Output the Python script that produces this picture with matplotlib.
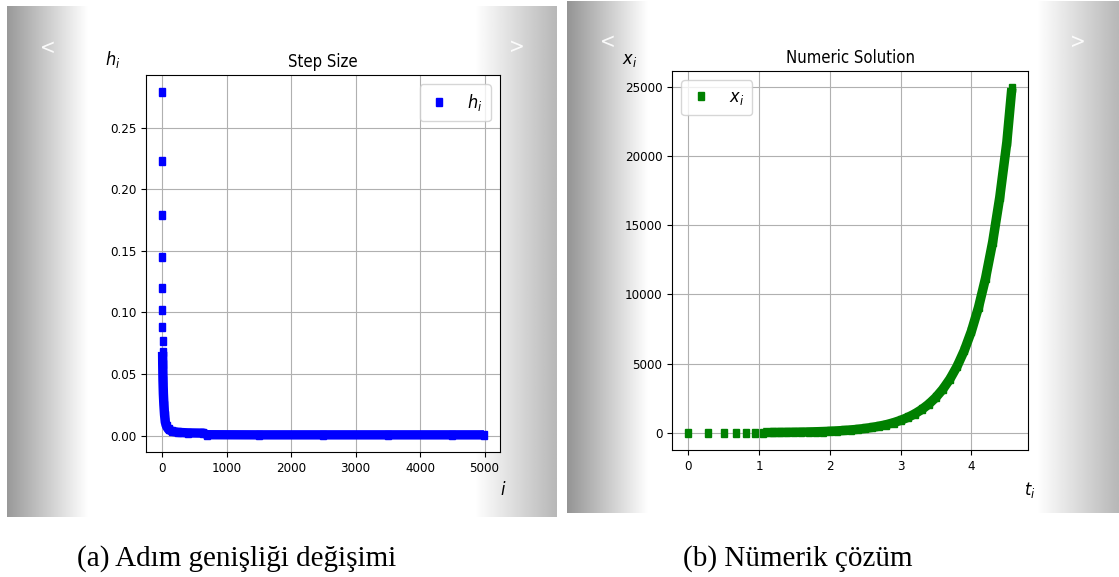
import matplotlib.pyplot as plt
import numpy as np
from matplotlib.markers import MarkerStyle
from matplotlib.transforms import Affine2D

plt.rcParams['font.family'] = 'DejaVu Sans'
plt.rcParams['font.stretch'] = 'condensed'

# step sizes: the first steps are seen one by one, later ones merge into a band
i_vals = [0, 1, 2, 3, 4, 5, 6, 7,
          8, 10, 14, 20, 28, 38, 50, 70, 100, 150, 250, 400, 640,
          700, 1500, 2500, 3500, 4500, 4990]
h_vals = [0.279, 0.223, 0.179, 0.145, 0.120, 0.102, 0.088, 0.077,
          0.068, 0.058, 0.045, 0.034, 0.025, 0.017, 0.011, 0.0075, 0.005,
          0.0035, 0.0026, 0.0022, 0.0020,
          0.0007, 0.0006, 0.0006, 0.0006, 0.0006, 0.0006]
n_single_h = 8

# numeric solution x_i over t_i
t_vals = [0.0, 0.28, 0.50, 0.67, 0.82, 0.95,
          1.06, 1.2, 1.3, 1.4, 1.5, 1.6, 1.7, 1.8, 1.9, 2.0,
          2.1, 2.2, 2.3, 2.4, 2.5, 2.6, 2.7, 2.8, 2.9, 3.0,
          3.1, 3.2, 3.3, 3.4, 3.5, 3.6, 3.7, 3.8, 3.9, 4.0,
          4.1, 4.2, 4.3, 4.4, 4.5, 4.57]
x_vals = [1, 2, 3, 4, 6, 8,
          15, 21, 26, 32, 39, 48, 59, 73, 90, 110,
          136, 168, 207, 255, 315, 390, 480, 590, 730, 900,
          1110, 1370, 1690, 2085, 2570, 3175, 3915, 4830, 5960, 7350,
          9070, 11190, 13800, 17030, 21010, 24900]
n_single_x = 6

W, H = 1119, 577


def fx(x):
    return x / W


def fy(y):
    return 1 - y / H


fig = plt.figure(figsize=(W / 100, H / 100), dpi=100)


def panel(x0, x1, y0, y1, g_left, g_right):
    # carousel style panel: grey fade at both sides, white in the middle
    ax = fig.add_axes([fx(x0), fy(y1), fx(x1 - x0), (y1 - y0) / H])
    n = x1 - x0
    cols = np.ones(n)
    fade = 82
    cols[:fade] = np.linspace(g_left, 1.0, fade)
    cols[-fade:] = np.linspace(1.0, g_right, fade)
    ax.imshow(np.tile(cols, (2, 1)), cmap='gray', vmin=0, vmax=1,
              aspect='auto', interpolation='bilinear')
    ax.set_axis_off()
    return ax


panel(7, 557, 6, 517, 0.60, 0.72)
panel(567, 1119, 1, 513, 0.58, 0.72)

for (cx, cy, s) in [(48, 48, '<'), (517, 47, '>'), (608, 42, '<'), (1078, 42, '>')]:
    fig.text(fx(cx), fy(cy), s, color='white', fontsize=15, family='DejaVu Sans',
             ha='center', va='center', alpha=0.9)

mk = MarkerStyle('s', transform=Affine2D().scale(0.78, 1.0))
band = 6.8

# left: step size
ax1 = fig.add_axes([fx(146), fy(452), fx(500 - 146), (452 - 75) / H])
ax1.plot(i_vals[n_single_h:], h_vals[n_single_h:], '-', color='blue', lw=band,
         solid_capstyle='butt', solid_joinstyle='round')
ax1.plot(i_vals, h_vals, linestyle='none', marker=mk, ms=6.0, color='blue',
         label='$h_i$')
ax1.set_title('Step Size', fontsize=12)
ax1.grid(True)
ax1.tick_params(labelsize=9.5)
ax1.legend(loc='upper right', fontsize=13, handlelength=1.3, handletextpad=0.9,
           borderpad=0.45)

# right: numeric solution
ax2 = fig.add_axes([fx(672), fy(450), fx(1028 - 672), (450 - 71) / H])
ax2.plot(t_vals[n_single_x:], x_vals[n_single_x:], '-', color='green', lw=band,
         solid_capstyle='butt', solid_joinstyle='round')
ax2.plot(t_vals, x_vals, linestyle='none', marker=mk, ms=6.0, color='green',
         label='$x_i$')
ax2.set_title('Numeric Solution', fontsize=12)
ax2.grid(True)
ax2.tick_params(labelsize=9.5)
ax2.legend(loc='upper left', fontsize=13, handlelength=1.3, handletextpad=0.9,
           borderpad=0.45)

# axis names sit outside the axes corners
fig.text(fx(113), fy(60), '$h_i$', fontsize=13, ha='center', va='center')
fig.text(fx(503), fy(490), '$i$', fontsize=13, ha='center', va='center')
fig.text(fx(630), fy(60), '$x_i$', fontsize=13, ha='center', va='center')
fig.text(fx(1030), fy(490), '$t_i$', fontsize=13, ha='center', va='center')

# captions
fig.text(fx(237), fy(566), '(a) Adım genişliği değişimi', family='Liberation Serif',
         fontsize=21, ha='center', va='baseline')
fig.text(fx(798), fy(566), '(b) Nümerik çözüm', family='Liberation Serif',
         fontsize=21, ha='center', va='baseline')

fig.savefig('out.png', dpi=100, facecolor='white')
